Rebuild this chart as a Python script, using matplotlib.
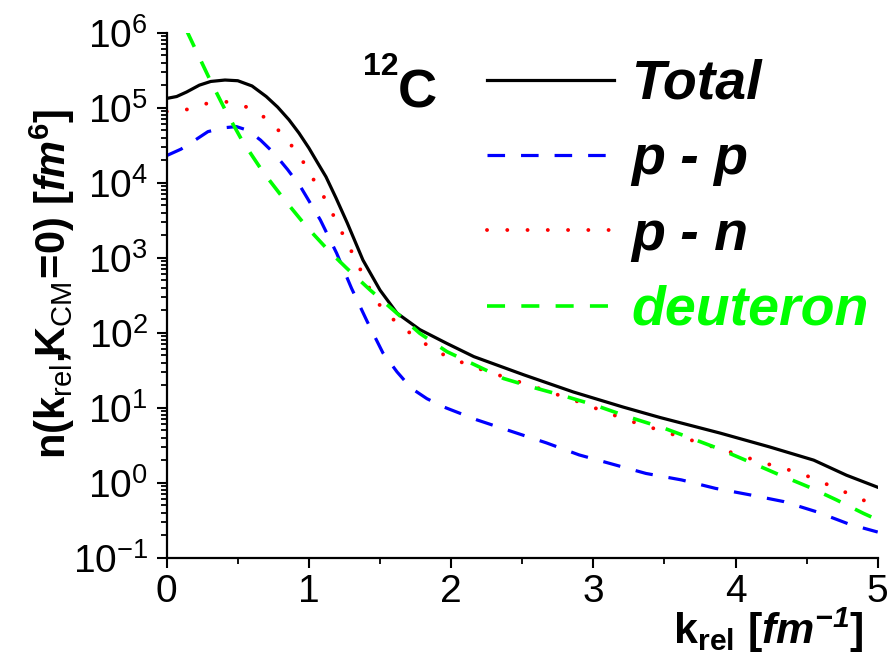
import matplotlib
matplotlib.use("Agg")
import matplotlib.pyplot as plt
import matplotlib.ticker as mticker

plt.rcParams['font.family'] = ['Liberation Sans', 'DejaVu Sans']
plt.rcParams['mathtext.fontset'] = 'custom'
plt.rcParams['mathtext.rm'] = 'Liberation Sans'
plt.rcParams['mathtext.bf'] = 'Liberation Sans:bold'
plt.rcParams['mathtext.it'] = 'Liberation Sans:italic'
plt.rcParams['mathtext.bfit'] = 'Liberation Sans:italic:bold'
plt.rcParams['mathtext.sf'] = 'Liberation Sans'

# ---- data ----
k_total = [0, 0.07, 0.14, 0.23, 0.31, 0.41, 0.5, 0.6, 0.70, 0.78, 0.86, 0.93, 1.00, 1.06,
           1.12, 1.19, 1.27, 1.38, 1.50, 1.62, 1.78, 1.97, 2.16, 2.51, 2.86, 3.21, 3.47,
           3.89, 4.24, 4.55, 4.78, 5.0]
n_total = [1.33e5, 1.41e5, 1.62e5, 2.0e5, 2.24e5, 2.34e5, 2.29e5, 1.95e5, 1.41e5, 1.02e5,
           6.9e4, 4.6e4, 2.9e4, 1.86e4, 1.2e4, 6.3e3, 2.9e3, 930, 370, 182, 110, 72, 48,
           27.5, 16.2, 10.2, 7.4, 4.6, 3.0, 2.0, 1.26, 0.87]

k_pp = [0, 0.10, 0.20, 0.29, 0.40, 0.49, 0.57, 0.66, 0.757, 0.85, 0.94, 1.08, 1.195, 1.30,
        1.41, 1.52, 1.62, 1.72, 1.83, 1.95, 2.18, 2.43, 2.67, 2.90, 3.37, 3.62, 3.86, 4.10,
        4.34, 4.57, 4.80, 5.0]
n_pp = [2.3e4, 2.8e4, 3.7e4, 4.8e4, 5.4e4, 5.6e4, 5.0e4, 3.7e4, 2.45e4, 1.5e4, 8.9e3,
        3.2e3, 1.15e3, 390, 141, 54, 30, 18.2, 13.2, 10.2, 6.9, 4.8, 3.4, 2.35, 1.33, 1.09,
        0.84, 0.69, 0.56, 0.41, 0.28, 0.22]

k_pn = [0, 0.147, 0.29, 0.43, 0.58, 0.72, 0.85, 0.956, 1.043, 1.125, 1.195, 1.266, 1.336,
        1.406, 1.488, 1.617, 1.758, 1.899, 2.04, 2.18, 2.47, 2.63, 2.895, 3.05, 3.19, 3.33,
        3.47, 3.61, 3.75, 4.03, 4.17, 4.325, 4.465, 4.606, 4.75, 4.895, 5.0]
n_pn = [8.9e4, 9.5e4, 1.15e5, 1.2e5, 1.0e5, 6.8e4, 3.7e4, 1.95e4, 1.02e4, 5.6e3, 3.0e3,
        1.62e3, 890, 457, 245, 135, 85, 56, 42.7, 33.9, 22.4, 17.8, 12.0, 9.3, 7.4, 6.0,
        5.0, 4.1, 3.4, 2.34, 1.9, 1.58, 1.32, 1.02, 0.78, 0.59, 0.49]

k_d = [0.14, 0.194, 0.30, 0.417, 0.534, 0.675, 0.82, 0.985, 1.136, 1.266, 1.43, 1.594,
       1.78, 1.97, 2.18, 2.37, 2.58, 2.77, 3.0, 3.26, 3.49, 3.66, 3.87, 4.07, 4.29, 4.52,
       4.71, 4.90, 5.0]
n_d = [1.07e6, 6.5e5, 2.45e5, 8.9e4, 3.55e4, 1.41e4, 6.2e3, 2.57e3, 1.26e3, 724, 372, 200,
       98, 56, 36.3, 24.5, 18.6, 14.8, 11.0, 7.4, 5.4, 4.1, 2.9, 2.0, 1.32, 0.87, 0.59,
       0.39, 0.32]

labels = ['Total', 'p - p', 'p - n', 'deuteron']
x_ticks = [0, 1, 2, 3, 4, 5]

# ---- figure ----
fig = plt.figure(figsize=(8.9, 6.57), dpi=100)
ax = fig.add_axes([0.1873, 0.1511, 0.7989, 0.7991])

ax.plot(k_total, n_total, color='black', lw=2.3, label=labels[0])
ax.plot(k_pp, n_pp, color='#0000ff', lw=2.3, dashes=(5.5, 5.0), label=labels[1])
ax.plot(k_pn, n_pn, color='#ff0000', lw=2.8, dashes=(0.01, 5.2),
        dash_capstyle='round', label=labels[2])
ax.plot(k_d, n_d, color='#00ff00', lw=2.6, dashes=(5.0, 4.5), label=labels[3])

ax.set_yscale('log')
ax.set_xlim(0, 5)
ax.set_ylim(1e-1, 1e6)
ax.set_xticks(x_ticks)
ax.xaxis.set_minor_locator(mticker.MultipleLocator(0.5))
ax.yaxis.set_major_locator(mticker.LogLocator(base=10, numticks=10))
ax.yaxis.set_minor_locator(mticker.LogLocator(base=10, subs=range(2, 10), numticks=20))
ax.yaxis.set_minor_formatter(mticker.NullFormatter())

for s in ['top', 'right']:
    ax.spines[s].set_visible(False)
for s in ['left', 'bottom']:
    ax.spines[s].set_linewidth(1.6)

ax.tick_params(which='major', direction='out', length=7.5, width=1.5, labelsize=28)
ax.tick_params(which='minor', direction='out', length=4.2, width=1.3)
ax.tick_params(axis='x', which='major', pad=4)
ax.tick_params(axis='y', which='major', pad=6)

ax.set_ylabel(r'$\mathbf{n(k}_{\mathrm{rel}}\mathbf{,}\!\mathbf{K}_{\mathrm{CM}}\!\mathbf{=}\!\mathbf{0)\ [}'
              r'\mathbfit{fm}^{\mathbf{6}}\mathbf{]}$', fontsize=30)
ax.yaxis.set_label_coords(-0.126, 0.522)

ax.set_xlabel(r'$\mathbf{k}_{\mathbf{rel}}\ \mathbf{[}\mathbfit{fm}^{\mathbfit{-1}}\mathbf{]}$',
              fontsize=31, loc='right')
ax.xaxis.set_label_coords(0.98, -0.092)

ax.text(0.276, 0.919, '12', transform=ax.transAxes, fontsize=23, fontweight='bold',
        ha='left', va='baseline')
ax.text(0.325, 0.8585, 'C', transform=ax.transAxes, fontsize=39, fontweight='bold',
        ha='left', va='baseline')

leg = ax.legend(loc='upper left', bbox_to_anchor=(0.45, 0.950), frameon=False,
                prop={'family': 'Liberation Sans', 'weight': 'bold', 'style': 'italic',
                      'size': 40},
                handlelength=2.3, handletextpad=0.3, labelspacing=0.42,
                borderpad=0, borderaxespad=0)
leg.get_texts()[3].set_color('#00ff00')

fig.savefig('out.png', dpi=100)
